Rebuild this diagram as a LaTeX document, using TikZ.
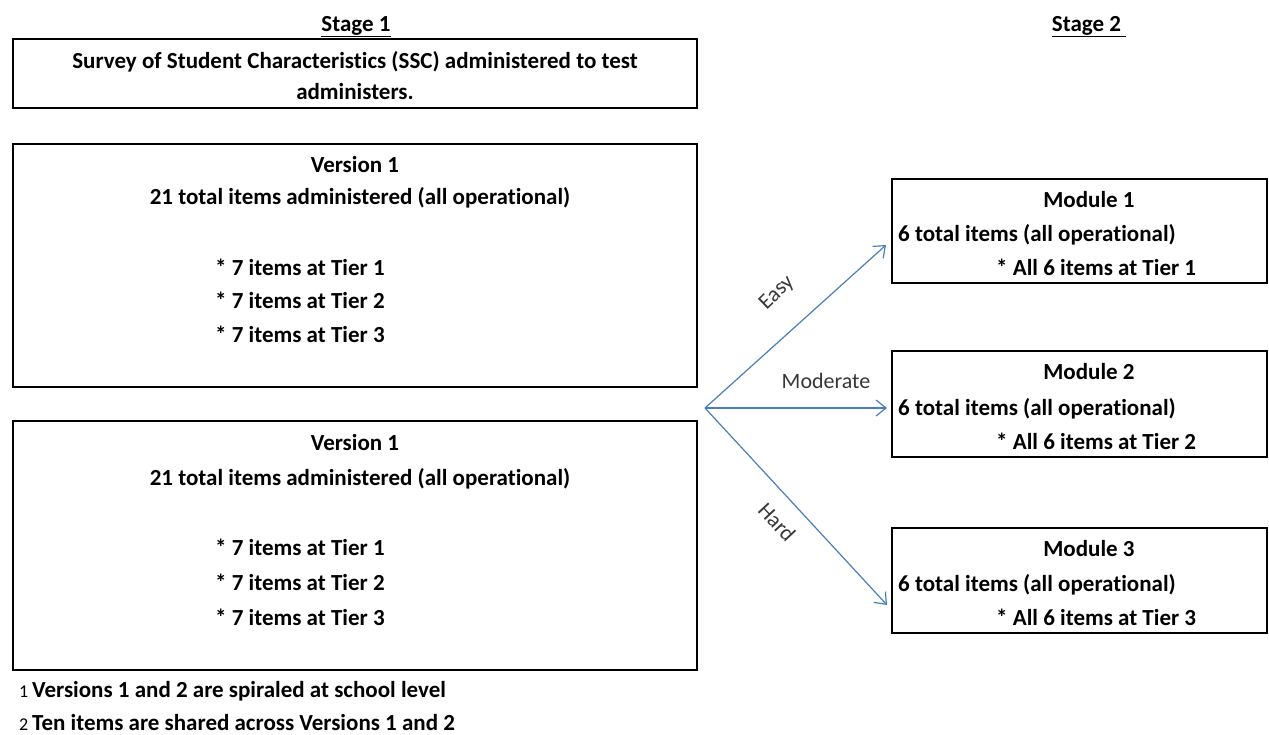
\documentclass[tikz,border=0pt]{standalone}
\usepackage{fontspec}
\setmainfont{Carlito}[Ligatures=NoCommon]
\usetikzlibrary{arrows.meta}
\definecolor{arrowblue}{RGB}{74,126,187}
\definecolor{labelgray}{RGB}{55,55,55}
\begin{document}
\begin{tikzpicture}[x=1pt,y=-1pt,
  box/.style={draw=black, line width=2pt, inner sep=0pt, outer sep=0pt, anchor=north west},
  txt/.style={font=\fontsize{23}{28}\selectfont\bfseries, inner sep=0pt, anchor=base},
  txtl/.style={txt, anchor=base west},
  lbl/.style={font=\fontsize{22}{26}\selectfont, text=labelgray, inner sep=0pt},
  arr/.style={draw=arrowblue, line width=1.2pt, -{Straight Barb[length=10pt,width=16pt,line width=1.2pt]}}]
\useasboundingbox (0,0) rectangle (1269,734);

% headers
\node[txt] (h1) at (356,31) {\underline{Stage 1}};
\node[txt] (h2) at (1089,31) {\underline{Stage 2\ }};

% SSC box
\node[box, minimum width=684pt, minimum height=69pt] (ssc) at (13,39) {};
\node[txt] (ssc1) at (355,68) {Survey of Student Characteristics (SSC) administered to test};
\node[txt] (ssc2) at (355,99) {administers.};

% Version box A
\node[box, minimum width=684pt, minimum height=243pt] (va) at (13,144) {};
\node[txt] (va1) at (355,172) {Version 1};
\node[txt] (va2) at (360,204) {21 total items administered (all operational)};
\node[txtl] (va3) at (215,275) {* 7 items at Tier 1};
\node[txtl] (va4) at (215,308) {* 7 items at Tier 2};
\node[txtl] (va5) at (215,342) {* 7 items at Tier 3};

% Version box B
\node[box, minimum width=684pt, minimum height=249pt] (vb) at (13,421) {};
\node[txt] (vb1) at (355,450) {Version 1};
\node[txt] (vb2) at (360,485) {21 total items administered (all operational)};
\node[txtl] (vb3) at (215,555) {* 7 items at Tier 1};
\node[txtl] (vb4) at (215,590) {* 7 items at Tier 2};
\node[txtl] (vb5) at (215,625) {* 7 items at Tier 3};

% footnotes
\node[txtl] (f1) at (19,697) {{\fontsize{18}{20}\selectfont\mdseries 1}\,Versions 1 and 2 are spiraled at school level};
\node[txtl] (f2) at (19,730) {{\fontsize{18}{20}\selectfont\mdseries 2}\,Ten items are shared across Versions 1 and 2};

% Module boxes
\node[box, minimum width=375pt, minimum height=104pt] (m1) at (892,179) {};
\node[txt] (m1a) at (1089,207) {Module 1};
\node[txtl] (m1b) at (898,241) {6 total items (all operational)};
\node[txtl] (m1c) at (996,275) {* All 6 items at Tier 1};

\node[box, minimum width=375pt, minimum height=106pt] (m2) at (892,351) {};
\node[txt] (m2a) at (1089,379) {Module 2};
\node[txtl] (m2b) at (898,415) {6 total items (all operational)};
\node[txtl] (m2c) at (996,449) {* All 6 items at Tier 2};

\node[box, minimum width=375pt, minimum height=105pt] (m3) at (892,528) {};
\node[txt] (m3a) at (1089,556) {Module 3};
\node[txtl] (m3b) at (898,591) {6 total items (all operational)};
\node[txtl] (m3c) at (996,625) {* All 6 items at Tier 3};

% arrows
\coordinate (o) at (705,408);
\coordinate (e1) at (886,245);
\coordinate (e2) at (887,408);
\coordinate (e3) at (887,605);
\draw[arr] (o) -- (e1);
\draw[arr] (o) -- (e2);
\draw[arr] (o) -- (e3);
\node[lbl, rotate=44] (le) at (777,293) {Easy};
\node[lbl] (lm) at (826,381) {Moderate};
\node[lbl, rotate=-47] (lh) at (777,522) {Hard};
\end{tikzpicture}
\end{document}
